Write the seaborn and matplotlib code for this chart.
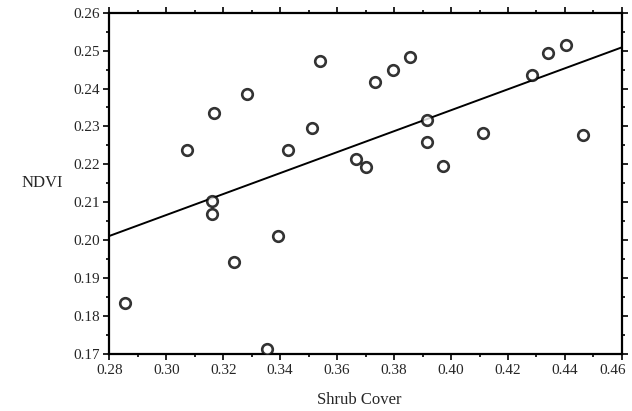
import numpy as np
import pandas as pd
import seaborn as sns
import matplotlib.pyplot as plt
import matplotlib.transforms as mtransforms
from matplotlib.ticker import MultipleLocator

shrub_cover = [0.2856, 0.3072, 0.3162, 0.3162, 0.3169, 0.3238, 0.3284, 0.3353,
               0.3393, 0.3428, 0.3510, 0.3541, 0.3667, 0.3701, 0.3732, 0.3797,
               0.3856, 0.3917, 0.3917, 0.3972, 0.4114, 0.4286, 0.4342, 0.4402,
               0.4462]
ndvi = [0.1835, 0.2237, 0.2104, 0.2069, 0.2335, 0.1943, 0.2385, 0.1712,
        0.2012, 0.2237, 0.2296, 0.2473, 0.2214, 0.2194, 0.2416, 0.2450,
        0.2484, 0.2318, 0.2259, 0.2195, 0.2283, 0.2435, 0.2495, 0.2516,
        0.2278]
x_ticks = [0.28, 0.30, 0.32, 0.34, 0.36, 0.38, 0.40, 0.42, 0.44, 0.46]
y_ticks = [0.17, 0.18, 0.19, 0.20, 0.21, 0.22, 0.23, 0.24, 0.25, 0.26]

df = pd.DataFrame({'Shrub Cover': shrub_cover, 'NDVI': ndvi})

sns.set_style('ticks')
plt.rcParams['font.family'] = ['Liberation Serif', 'DejaVu Serif']

fig = plt.figure(figsize=(6.32, 4.11), dpi=100)
ax = fig.add_axes([0.173, 0.139, 0.811, 0.830])
# limits first so the fitted line spans the whole axis
ax.set_xlim(0.28, 0.46)
ax.set_ylim(0.17, 0.26)

sns.regplot(
    data=df, x='Shrub Cover', y='NDVI', ci=None, truncate=False, ax=ax,
    scatter_kws=dict(s=58, facecolors='white', edgecolors='black', linewidths=1.9, zorder=3),
    line_kws=dict(color='black', linewidth=1.4),
)

ax.set_xlim(0.28, 0.46)
ax.set_ylim(0.17, 0.26)
ax.set_xticks(x_ticks, [f'{v:.2f}' for v in x_ticks])
ax.set_yticks(y_ticks, [f'{v:.2f}' for v in y_ticks])
ax.xaxis.set_minor_locator(MultipleLocator(0.01))
ax.yaxis.set_minor_locator(MultipleLocator(0.005))

for s in ax.spines.values():
    s.set_linewidth(1.6)
    s.set_color('black')
ax.tick_params(which='both', direction='out', top=True, right=True,
               labeltop=False, labelright=False, color='black', width=1.2)
ax.tick_params(which='major', length=4, labelsize=11, pad=3)
ax.tick_params(which='minor', length=2.5)

# nudge the last x label so it stays inside the figure
for lab in ax.get_xticklabels():
    if lab.get_text() == '0.46':
        lab.set_transform(lab.get_transform() + mtransforms.ScaledTranslation(-9/100, 0, fig.dpi_scale_trans))

ax.set_xlabel('Shrub Cover', fontsize=12)
ax.xaxis.set_label_coords(0.487, -0.112)
ax.set_ylabel('NDVI', fontsize=12, rotation=0, labelpad=22, va='center')

fig.savefig('out.png', dpi=100)
